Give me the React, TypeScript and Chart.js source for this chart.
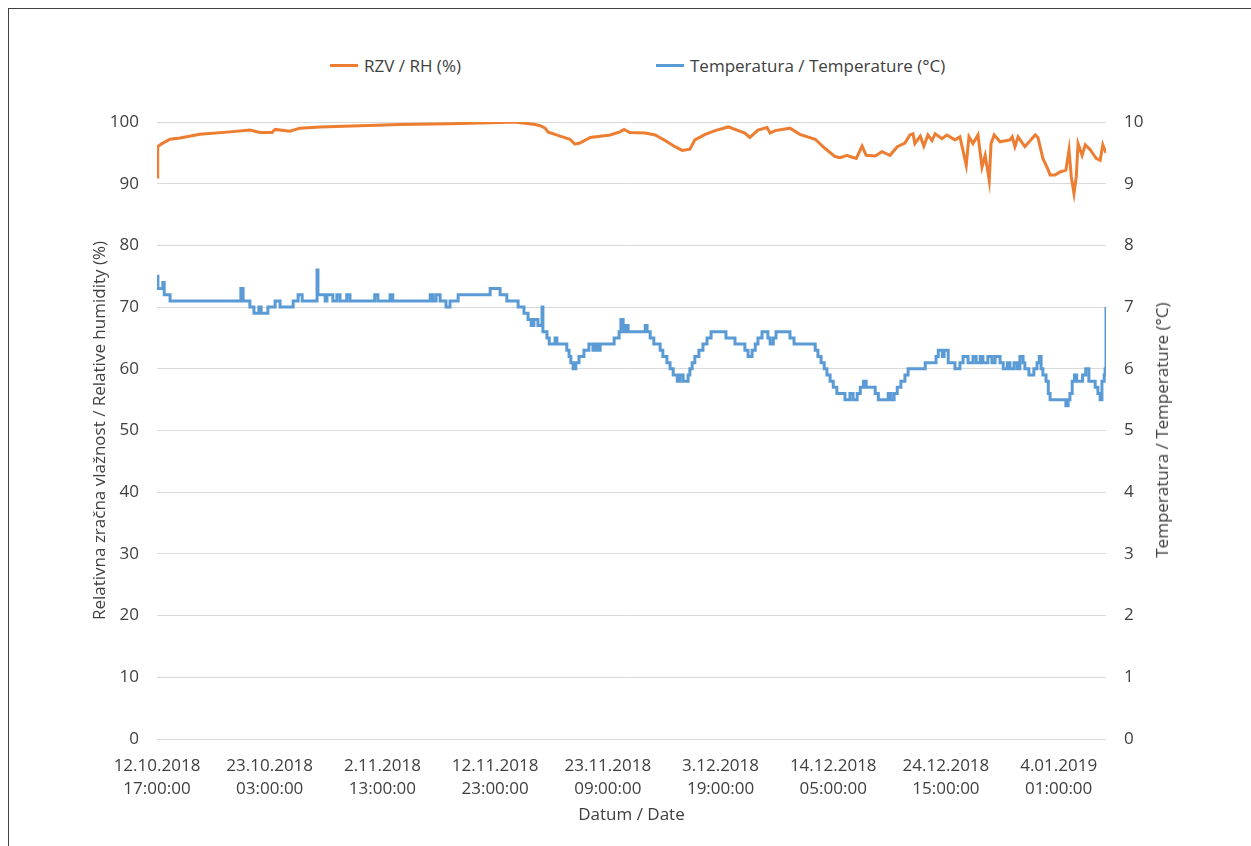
import React, { useEffect, useRef } from "react";
import { Chart, registerables } from "chart.js";

Chart.register(...registerables);

// x axis: hours elapsed since 12.10.2018 17:00:00
const tickHours = [0, 250, 500, 750, 1000, 1250, 1500, 1750, 2000];
const tickDates = ["12.10.2018", "23.10.2018", "2.11.2018", "12.11.2018", "23.11.2018", "3.12.2018", "14.12.2018", "24.12.2018", "4.01.2019"];
const tickTimes = ["17:00:00", "03:00:00", "13:00:00", "23:00:00", "09:00:00", "19:00:00", "05:00:00", "15:00:00", "01:00:00"];
const lastHour = 2105;

// Relative humidity (%)
const rhHours = [0, 1, 2, 11, 29, 51, 95, 162, 206, 228, 255, 262, 295, 317, 362, 450, 539, 650, 761, 794, 816, 839, 850, 861, 867, 894, 916, 927, 938, 961, 983, 1005, 1027, 1036, 1049, 1083, 1105, 1127, 1149, 1165, 1182, 1193, 1216, 1238, 1267, 1304, 1315, 1333, 1353, 1360, 1371, 1404, 1426, 1460, 1482, 1504, 1515, 1531, 1537, 1551, 1564, 1573, 1593, 1608, 1626, 1642, 1659, 1670, 1677, 1681, 1693, 1701, 1710, 1719, 1726, 1741, 1752, 1770, 1781, 1795, 1801, 1810, 1821, 1830, 1837, 1846, 1850, 1857, 1870, 1892, 1897, 1903, 1910, 1925, 1948, 1954, 1965, 1977, 1981, 1992, 2003, 2016, 2023, 2028, 2034, 2039, 2043, 2052, 2059, 2070, 2083, 2092, 2098, 2105];
const rhValues = [91.1, 94.9, 96.0, 96.5, 97.2, 97.4, 98.0, 98.4, 98.7, 98.3, 98.3, 98.8, 98.5, 99.0, 99.2, 99.4, 99.6, 99.7, 99.9, 100.0, 99.8, 99.6, 99.4, 99.0, 98.4, 97.7, 97.2, 96.4, 96.6, 97.5, 97.7, 97.9, 98.4, 98.8, 98.3, 98.2, 97.9, 97.0, 96.0, 95.4, 95.6, 97.1, 98.0, 98.6, 99.2, 98.2, 97.5, 98.7, 99.1, 98.2, 98.6, 99.0, 98.0, 97.2, 95.7, 94.4, 94.2, 94.6, 94.4, 94.1, 96.1, 94.6, 94.5, 95.2, 94.6, 96.0, 96.6, 97.9, 98.1, 96.5, 97.7, 96.1, 97.9, 97.0, 98.1, 97.3, 97.9, 97.1, 97.6, 93.0, 97.6, 96.5, 97.9, 92.7, 94.6, 90.5, 96.5, 97.9, 96.8, 97.1, 97.6, 96.0, 97.6, 96.0, 97.9, 97.5, 94.1, 92.2, 91.4, 91.4, 91.9, 92.2, 95.5, 91.1, 88.4, 91.1, 96.5, 94.6, 96.3, 95.5, 94.1, 93.8, 96.3, 95.0];

// Temperature (°C), logged values with their start hours
const tempHours = [0, 2, 9, 13, 16, 29, 186, 191, 206, 215, 226, 231, 246, 262, 273, 302, 313, 322, 355, 357, 373, 377, 390, 399, 406, 421, 428, 483, 490, 517, 523, 606, 612, 619, 628, 641, 650, 668, 739, 761, 776, 801, 814, 823, 830, 836, 845, 854, 856, 865, 870, 883, 887, 909, 914, 918, 923, 929, 936, 947, 958, 967, 972, 978, 983, 1014, 1025, 1029, 1034, 1040, 1045, 1083, 1087, 1094, 1102, 1116, 1122, 1131, 1138, 1145, 1154, 1160, 1167, 1178, 1182, 1187, 1193, 1202, 1211, 1220, 1229, 1262, 1282, 1304, 1311, 1320, 1327, 1333, 1342, 1355, 1360, 1367, 1373, 1404, 1413, 1422, 1460, 1466, 1473, 1480, 1486, 1493, 1500, 1508, 1515, 1526, 1537, 1544, 1553, 1560, 1567, 1573, 1593, 1600, 1622, 1628, 1635, 1642, 1650, 1659, 1666, 1704, 1728, 1733, 1742, 1746, 1755, 1770, 1781, 1788, 1799, 1810, 1817, 1826, 1832, 1843, 1852, 1859, 1870, 1877, 1886, 1892, 1901, 1908, 1914, 1921, 1925, 1934, 1945, 1952, 1957, 1961, 1965, 1972, 1977, 1981, 2016, 2021, 2025, 2030, 2035, 2040, 2053, 2060, 2067, 2081, 2087, 2092, 2096, 2101, 2103, 2105];
const tempValues = [7.5, 7.3, 7.3, 7.4, 7.2, 7.1, 7.3, 7.1, 7.0, 6.9, 7.0, 6.9, 7.0, 7.1, 7.0, 7.1, 7.2, 7.1, 7.6, 7.2, 7.1, 7.2, 7.1, 7.2, 7.1, 7.2, 7.1, 7.2, 7.1, 7.2, 7.1, 7.2, 7.1, 7.2, 7.1, 7.0, 7.1, 7.2, 7.3, 7.2, 7.1, 7.0, 6.9, 6.8, 6.7, 6.8, 6.7, 7.0, 6.6, 6.5, 6.4, 6.5, 6.4, 6.3, 6.2, 6.1, 6.0, 6.1, 6.2, 6.3, 6.4, 6.3, 6.4, 6.3, 6.4, 6.5, 6.6, 6.8, 6.6, 6.7, 6.6, 6.7, 6.6, 6.5, 6.4, 6.3, 6.2, 6.1, 6.0, 5.9, 5.8, 5.9, 5.8, 5.9, 6.0, 6.1, 6.2, 6.3, 6.4, 6.5, 6.6, 6.5, 6.4, 6.3, 6.2, 6.3, 6.4, 6.5, 6.6, 6.5, 6.4, 6.5, 6.6, 6.5, 6.4, 6.4, 6.3, 6.2, 6.1, 6.0, 5.9, 5.8, 5.7, 5.6, 5.6, 5.5, 5.6, 5.5, 5.6, 5.7, 5.8, 5.7, 5.6, 5.5, 5.6, 5.5, 5.6, 5.7, 5.8, 5.9, 6.0, 6.1, 6.2, 6.3, 6.2, 6.3, 6.1, 6.0, 6.1, 6.2, 6.1, 6.2, 6.1, 6.2, 6.1, 6.2, 6.1, 6.2, 6.1, 6.0, 6.1, 6.0, 6.1, 6.0, 6.2, 6.1, 6.0, 5.9, 6.0, 6.1, 6.2, 6.0, 5.9, 5.8, 5.6, 5.5, 5.4, 5.5, 5.6, 5.8, 5.9, 5.8, 5.9, 6.0, 5.8, 5.7, 5.6, 5.5, 5.8, 5.9, 6.0, 7.0, 6.5];

const rhLabel = "RZV / RH (%)";
const tempLabel = "Temperatura / Temperature (°C)";
const rhAxisTitle = "Relativna zračna vlažnost / Relative humidity (%)";
const tempAxisTitle = "Temperatura / Temperature (°C)";
const xAxisTitle = "Datum / Date";
const rhColor = "#ED7D31";
const tempColor = "#5B9BD5";
const textColor = "#404040";
const fontFamily = "'Open Sans', sans-serif";

export default function App() {
  const canvasRef = useRef<HTMLCanvasElement | null>(null);

  useEffect(() => {
    if (!canvasRef.current) return;
    const rhData = rhHours.map((h, i) => ({ x: h, y: rhValues[i] }));
    const tempData = tempHours.map((h, i) => ({ x: h, y: tempValues[i] }));
    const chart = new Chart(canvasRef.current, {
      type: "line",
      data: {
        datasets: [
          {
            label: rhLabel,
            data: rhData,
            borderColor: rhColor,
            backgroundColor: rhColor,
            borderWidth: 3,
            pointRadius: 0,
            tension: 0,
            yAxisID: "y",
            order: 1,
          },
          {
            label: tempLabel,
            data: tempData,
            borderColor: tempColor,
            backgroundColor: tempColor,
            borderWidth: 3,
            pointRadius: 0,
            stepped: true,
            yAxisID: "y2",
            order: 2,
          },
        ],
      },
      options: {
        animation: false,
        responsive: true,
        maintainAspectRatio: false,
        layout: { padding: { left: 0, right: 0, top: 122, bottom: 0 } },
        plugins: {
          legend: { display: false },
          tooltip: { enabled: false },
        },
        scales: {
          x: {
            type: "linear",
            min: 0,
            max: lastHour,
            grid: { display: false, drawTicks: false },
            border: { display: false },
            afterBuildTicks: (scale: any) => {
              scale.ticks = tickHours.map((v) => ({ value: v }));
            },
            afterFit: (scale: any) => {
              scale.height = 107;
            },
            ticks: {
              autoSkip: false,
              maxRotation: 0,
              minRotation: 0,
              padding: 16,
              color: textColor,
              font: { family: fontFamily, size: 17, lineHeight: 1.35 },
              callback: (value: any) => {
                const i = tickHours.indexOf(Number(value));
                return i >= 0 ? [tickDates[i], tickTimes[i]] : "";
              },
            },
            title: {
              display: true,
              text: xAxisTitle,
              color: textColor,
              font: { family: fontFamily, size: 17 },
              padding: { top: 0, bottom: 21 },
            },
          },
          y: {
            position: "left",
            min: 0,
            max: 100,
            grid: { color: "#D9D9D9", lineWidth: 1, drawTicks: false },
            border: { display: false },
            afterFit: (scale: any) => {
              scale.width = 157;
            },
            ticks: {
              stepSize: 10,
              padding: 18,
              color: textColor,
              font: { family: fontFamily, size: 17 },
            },
            title: {
              display: true,
              text: rhAxisTitle,
              color: textColor,
              font: { family: fontFamily, size: 17 },
              padding: { top: 90, bottom: 0 },
            },
          },
          y2: {
            position: "right",
            min: 0,
            max: 10,
            grid: { display: false, drawTicks: false },
            border: { display: false },
            afterFit: (scale: any) => {
              scale.width = 145;
            },
            ticks: {
              stepSize: 1,
              padding: 18,
              color: textColor,
              font: { family: fontFamily, size: 17 },
            },
            title: { display: false },
          },
        },
      },
    });
    return () => chart.destroy();
  }, []);

  const legendText: React.CSSProperties = {
    position: "absolute",
    top: 54,
    fontFamily,
    fontSize: 17,
    color: textColor,
    lineHeight: "24px",
    whiteSpace: "nowrap",
  };
  const legendLine = (left: number, color: string): React.CSSProperties => ({
    position: "absolute",
    left,
    top: 64,
    width: 28,
    height: 3,
    background: color,
  });

  return (
    <div style={{ position: "fixed", left: 0, top: 0, width: 1251, height: 846, background: "#fff", overflow: "hidden" }}>
      <div style={{ position: "absolute", left: 8, top: 8, right: -2, bottom: -2, borderLeft: "1px solid #404040", borderTop: "1px solid #404040" }} />
      <div style={legendLine(330, rhColor)} />
      <div style={{ ...legendText, left: 364 }}>{rhLabel}</div>
      <div style={legendLine(656, tempColor)} />
      <div style={{ ...legendText, left: 690 }}>{tempLabel}</div>
      <div style={{ position: "absolute", left: 0, top: 0, width: 1251, height: 846 }}>
        <canvas ref={canvasRef} />
      </div>
      <div
        style={{
          position: "absolute",
          left: 1162,
          top: 430,
          transform: "translate(-50%, -50%) rotate(-90deg)",
          fontFamily,
          fontSize: 17,
          color: textColor,
          whiteSpace: "nowrap",
          lineHeight: "20px",
        }}
      >
        {tempAxisTitle}
      </div>
    </div>
  );
}
